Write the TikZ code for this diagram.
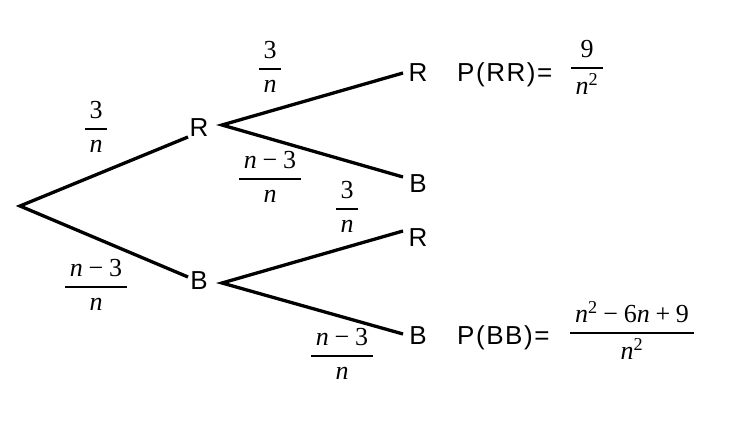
\documentclass[tikz,border=0pt]{standalone}
\usepackage{fontspec}
\setmainfont{Liberation Serif}
\newfontfamily\lsans{Liberation Sans}
\newfontfamily\lsanswide[LetterSpace=6]{Liberation Sans}
\newcommand\fr[2]{$\displaystyle{\mbox{\hspace{0.18em}#1\hspace{0.18em}}\above1.4pt\mbox{\hspace{0.18em}#2\hspace{0.18em}}}$}
\newcommand\nn{\textit{n}}
\newcommand\mns{\hspace{0.22em}−\hspace{0.22em}}
\begin{document}
\begin{tikzpicture}[x=1pt,y=-1pt,
  branch/.style={line width=3.3pt},
  letter/.style={anchor=base,inner sep=0pt,font=\lsans\fontsize{26}{30}\selectfont},
  ptext/.style={anchor=base west,inner sep=0pt,font=\lsanswide\fontsize{26}{30}\selectfont},
  prob/.style={anchor=mid,inner sep=0pt,font=\fontsize{26}{30}\selectfont}]
\useasboundingbox (0,0) rectangle (750,427);
% letters
\node[letter] (R1) at (199,137) {R};
\node[letter] (B1) at (199,290) {B};
\node[letter] (RR) at (418,82) {R};
\node[letter] (RB) at (418,193) {B};
\node[letter] (BR) at (418,247) {R};
\node[letter] (BB) at (418,345) {B};
% connector end points
\coordinate (root) at (20,206);
\coordinate (R1in) at (188,137);
\coordinate (B1in) at (188,277);
\coordinate (R1out) at (222,125);
\coordinate (B1out) at (222,283);
\coordinate (RRin) at (403,73);
\coordinate (RBin) at (403,177);
\coordinate (BRin) at (403,231);
\coordinate (BBin) at (403,334);
\draw[branch] (R1in) -- (root) -- (B1in);
\draw[branch] (RRin) -- (R1out) -- (RBin);
\draw[branch] (BRin) -- (B1out) -- (BBin);
% probabilities
\node[prob] (pa) at (96,133) {\fr{3}{\nn}};
\node[prob] (pb) at (270,73) {\fr{3}{\nn}};
\node[prob] (pc) at (270,183) {\fr{\nn\mns3}{\nn}};
\node[prob] (pd) at (347,213) {\fr{3}{\nn}};
\node[prob] (pe) at (96,291) {\fr{\nn\mns3}{\nn}};
\node[prob] (pf) at (342,360) {\fr{\nn\mns3}{\nn}};
% results
\node[ptext] (PRR) at (457,82) {P(RR)=};
\node[ptext] (PBB) at (457,345) {P(BB)=};
\node[prob] (prr) at (587,72) {\fr{9}{\nn\textsuperscript{2}}};
\node[prob] (pbb) at (632,337) {\fr{\nn\textsuperscript{2}\mns6\nn\hspace{0.22em}+\hspace{0.22em}9}{\nn\textsuperscript{2}}};
\end{tikzpicture}
\end{document}
